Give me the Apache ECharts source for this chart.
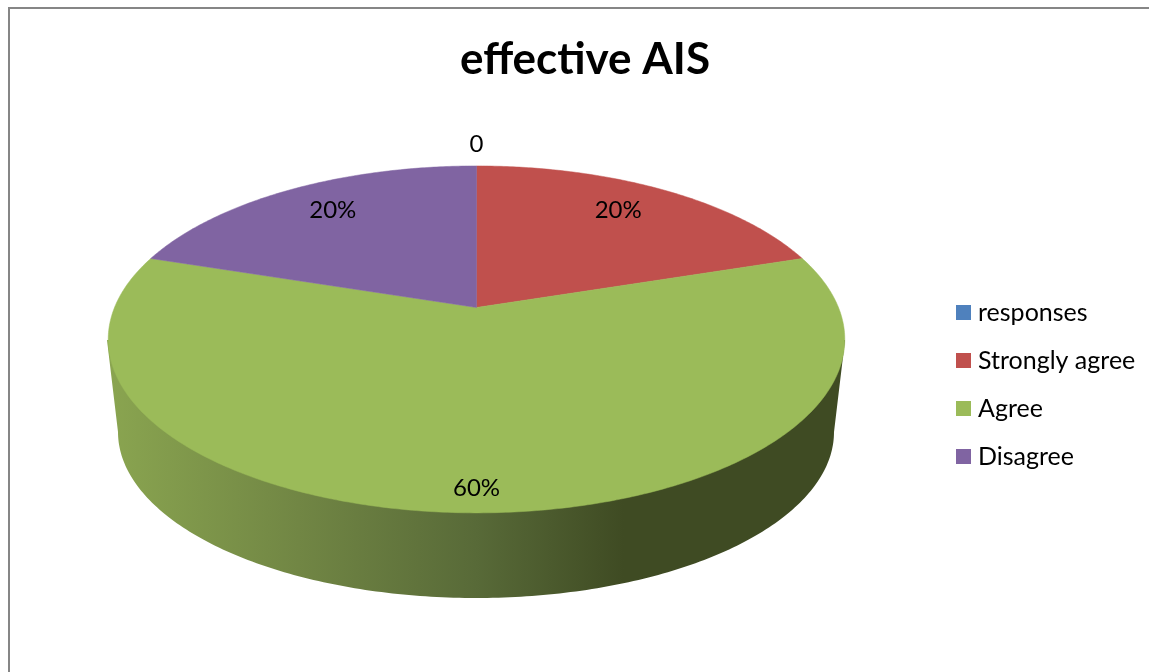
<!DOCTYPE html>
<html>
<head>
<meta charset="utf-8">
<style>html,body{margin:0;padding:0;background:#fff}#c{width:1149px;height:672px}</style>
<script src="https://cdn.jsdelivr.net/npm/echarts@6/dist/echarts.min.js"></script>
</head>
<body>
<div id="c"></div>
<script>
const categories = ['responses', 'Strongly agree', 'Agree', 'Disagree'];
const values = [0, 20, 60, 20];
const sliceLabels = ['0', '20%', '60%', '20%'];
const colors = ['#4f81bd', '#c0504d', '#9bbb59', '#8064a2'];
const titleText = 'effective AIS';

const FONT = 'Lato, Carlito, "Open Sans", sans-serif';
// Projection of the tilted disc onto the page
const apex = { x: 476.5, y: 307.5 }, A = 362, B = 167.6, persp = 0.184;
const labelRadius = [1.18, 0.78, 0.9, 0.78];
const labelNudge = [[0, -1], [-7, -2], [0, 0], [5, -2]];
const total = values.reduce((a, b) => a + b, 0);

function project(angle, r) {
  const u = r * Math.sin(angle), v = r * Math.cos(angle), d = 1 + persp * v;
  return [apex.x + A * u / d, apex.y - B * v / d];
}
function startAngle(i) {
  let s = 0;
  for (let k = 0; k < i; k++) s += values[k];
  return s / total * 2 * Math.PI;
}
function sliceItem(i) {
  return function (params, api) {
    const a0 = startAngle(i), a1 = a0 + api.value(0) / total * 2 * Math.PI;
    const children = [];
    if (a1 > a0) {
      const pts = [project(0, 0)];
      const n = Math.ceil((a1 - a0) / 0.01);
      for (let k = 0; k <= n; k++) pts.push(project(a0 + (a1 - a0) * k / n, 1));
      children.push({ type: 'polygon', shape: { points: pts },
        style: { fill: colors[i], stroke: colors[i], lineWidth: 0.5 } });
    }
    const p = project((a0 + a1) / 2, labelRadius[i]);
    children.push({ type: 'text', z2: 10, style: {
      x: p[0] + labelNudge[i][0], y: p[1] + labelNudge[i][1], text: sliceLabels[i],
      fill: '#000', font: '24px ' + FONT, align: 'center', verticalAlign: 'middle' } });
    return { type: 'group', children };
  };
}
// Rim of the disc
function wallItem() {
  const cx = 476, cy = 432, rx = 358, ry = 166;
  const pts = [[107, 340]];
  for (let k = 0; k <= 200; k++) {
    const t = Math.PI * k / 200;
    pts.push([cx - rx * Math.cos(t), cy + ry * Math.sin(t)]);
  }
  pts.push([845, 340]);
  return { type: 'polygon', shape: { points: pts }, style: {
    fill: new echarts.graphic.LinearGradient(0, 0, 1, 0, [
      { offset: 0, color: '#8aa550' },
      { offset: 0.26, color: '#718644' },
      { offset: 0.5, color: '#586a38' },
      { offset: 0.7, color: '#3f4b23' },
      { offset: 1, color: '#3f4b23' }
    ]) } };
}

const series = [{ type: 'custom', name: 'rim', coordinateSystem: 'none', silent: true,
  data: [total], renderItem: wallItem, z: 1 }];
categories.forEach((name, i) => series.push({
  type: 'custom', name, coordinateSystem: 'none', data: [values[i]],
  itemStyle: { color: colors[i] }, renderItem: sliceItem(i), z: 2
}));

const chart = echarts.init(document.getElementById('c'), null, { renderer: 'canvas' });
chart.setOption({
  animation: false,
  backgroundColor: '#fff',
  title: { text: titleText, left: 580, top: 33, textAlign: 'center',
    textStyle: { fontFamily: FONT, fontWeight: 'bold', fontSize: 44, color: '#000' } },
  legend: { data: categories, orient: 'vertical', left: 956, top: 300, padding: 0, icon: 'rect',
    itemWidth: 15, itemHeight: 15, itemGap: 23,
    selectedMode: false,
    textStyle: { fontFamily: FONT, fontSize: 25, color: '#000', padding: [0, 0, 0, 2], lineHeight: 24 } },
  graphic: [
    { type: 'rect', silent: true, shape: { x: 8, y: 7, width: 2, height: 665 }, style: { fill: '#868686' } },
    { type: 'rect', silent: true, shape: { x: 8, y: 7, width: 1141, height: 2 }, style: { fill: '#868686' } }
  ],
  series
});
</script>
</body>
</html>
